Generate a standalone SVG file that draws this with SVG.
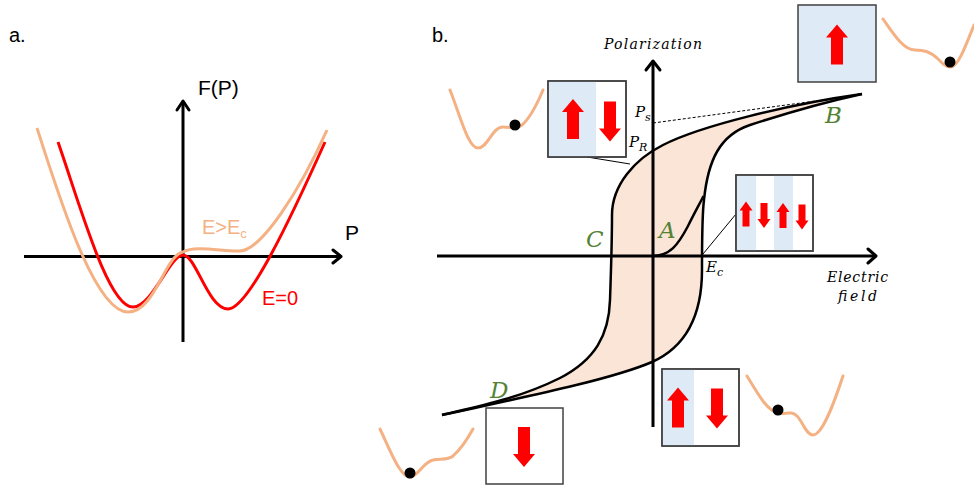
<svg xmlns="http://www.w3.org/2000/svg" width="974" height="487" viewBox="0 0 974 487">
<style>
.sans{font-family:"Liberation Sans",Arial,sans-serif;}
.math{font-family:"DejaVu Serif","Liberation Serif",serif;font-style:italic;fill:#000;}
.grn{font-family:"DejaVu Serif","Liberation Serif",serif;font-style:italic;fill:#548235;font-size:23px;}
.axis{stroke:#000;stroke-width:3;fill:none;}
.head{stroke:#000;stroke-width:3;fill:none;stroke-linecap:round;stroke-linejoin:round;}
.loop{stroke:#000;stroke-width:2.5;fill:none;}
.pot{stroke:#F4B183;stroke-width:3;fill:none;stroke-linecap:round;}
.box{stroke:#404040;stroke-width:1.5;}
.blue{fill:#DEEBF7;}
.arr{fill:#FF0000;}
.conn{stroke:#000;stroke-width:1;fill:none;}
</style>
<defs>
<path id="upBig" d="M0,-20 L11,-7 L6,-7 L6,20 L-6,20 L-6,-7 L-11,-7 Z"/>
<path id="upSmall" d="M0,-12.5 L6.5,-3.5 L3.5,-3.5 L3.5,12.5 L-3.5,12.5 L-3.5,-3.5 L-6.5,-3.5 Z"/>
</defs>
<rect width="974" height="487" fill="#fff"/>

<!-- Panel a -->
<g id="panel-a">
<text class="sans" x="9" y="42" font-size="20">a.</text>
<line class="axis" x1="183" y1="342" x2="183" y2="101"/>
<polyline class="head" points="177,110 183,101 189,110"/>
<line class="axis" x1="24" y1="256.5" x2="341" y2="256.5"/>
<polyline class="head" points="333,250 341,256.5 333,263"/>
<text class="sans" x="198" y="95" font-size="21">F(P)</text>
<text class="sans" x="345" y="240" font-size="21">P</text>
<path id="curve-E0" fill="none" stroke="#FF0000" stroke-width="3" d="M58,142 C80,205 108,307 133,307 C152,307 170,255 183,255 C196,255 208,309 228,309 C248,309 290,220 325,142"/>
<path id="curve-Ec" fill="none" stroke="#F4B183" stroke-width="3" d="M37,128 C60,200 95,312 128,312 C155,312 165,255 183,252 C195,245 225,252 240,251 C262,250 300,190 327,130"/>
<text class="sans" x="202" y="234" font-size="20" fill="#F4B183">E&gt;E<tspan font-size="13" dy="4">c</tspan></text>
<text class="sans" x="262" y="305" font-size="20" fill="#FF0000">E=0</text>
</g>

<!-- Panel b -->
<g id="panel-b">
<text class="sans" x="432" y="42" font-size="20">b.</text>
<path id="loop-fill" fill="#FBE5D6" stroke="none" d="M862,94 C790,104 700,126 663,145 C635,159 612,185 612,215 C612,245 611,270 610,300 C609,335 595,360 560,378 C520,398 480,406 442,415 C520,398 610,380 652,362 C690,345 702,310 702,270 C702,240 702,215 704,200 C708,160 720,135 750,125 C790,112 830,101 862,94 Z"/>
<line class="axis" x1="653" y1="427" x2="653" y2="61"/>
<polyline class="head" points="646,70 653,61 660,70"/>
<line class="axis" x1="437" y1="256" x2="876" y2="256"/>
<polyline class="head" points="868,249 876,256 868,263"/>
<path id="upper-branch" class="loop" d="M862,94 C790,104 700,126 663,145 C635,159 612,185 612,215 C612,245 611,270 610,300 C609,335 595,360 560,378 C520,398 480,406 442,415"/>
<path id="lower-branch" class="loop" d="M442,415 C520,398 610,380 652,362 C690,345 702,310 702,270 C702,240 702,215 704,200 C708,160 720,135 750,125 C790,112 830,101 862,94"/>
<path id="virgin" class="loop" d="M652,256 C670,256 678,245 688,226 C695,212 700,203 703.5,196"/>
<line x1="653" y1="123" x2="860" y2="95" stroke="#000" stroke-width="1" stroke-dasharray="3,2"/>
<text class="math" x="604" y="49" font-size="14" textLength="98" lengthAdjust="spacing">Polarization</text>
<text class="math" x="827" y="282" font-size="14" textLength="61" lengthAdjust="spacing">Electric</text>
<text class="math" x="838" y="301" font-size="14" textLength="39" lengthAdjust="spacing">field</text>
<text class="math" x="706" y="272" font-size="15">E<tspan font-size="11" dy="4">c</tspan></text>
<text class="math" x="635" y="117" font-size="15">P<tspan font-size="11" dy="4">s</tspan></text>
<text class="math" x="629" y="147" font-size="15">P<tspan font-size="11" dy="4">R</tspan></text>
<text class="grn" x="825" y="123">B</text>
<text class="grn" x="659" y="238">A</text>
<text class="grn" x="586" y="247">C</text>
<text class="grn" x="490" y="398">D</text>
</g>

<!-- Connectors -->
<g id="connectors">
<line class="conn" x1="587" y1="157" x2="630" y2="164"/>
<line class="conn" x1="736" y1="214" x2="703" y2="254"/>
</g>

<!-- Insets -->
<g id="inset-PR">
<rect class="box" x="548" y="81" width="78" height="76" fill="#fff"/>
<rect class="blue" x="548.75" y="81.75" width="47.25" height="74.5"/>
<rect class="box" x="548" y="81" width="78" height="76" fill="none"/>
<use href="#upBig" class="arr" transform="translate(573,119)"/>
<use href="#upBig" class="arr" transform="translate(610,121.5) rotate(180)"/>
</g>

<g id="inset-B">
<rect class="box blue" x="798" y="5" width="78" height="77"/>
<use href="#upBig" class="arr" transform="translate(837,44.5)"/>
</g>

<g id="inset-A">
<rect class="box" x="736" y="175" width="77" height="76" fill="#fff"/>
<rect class="blue" x="736.75" y="175.75" width="19.25" height="74.5"/>
<rect class="blue" x="774" y="175.75" width="19" height="74.5"/>
<rect class="box" x="736" y="175" width="77" height="76" fill="none"/>
<use href="#upSmall" class="arr" transform="translate(746,214)"/>
<use href="#upSmall" class="arr" transform="translate(764,215.5) rotate(180)"/>
<use href="#upSmall" class="arr" transform="translate(783,215.5)"/>
<use href="#upSmall" class="arr" transform="translate(802,217) rotate(180)"/>
</g>

<g id="inset-D">
<rect class="box" x="486" y="408" width="77" height="76" fill="#fff"/>
<use href="#upBig" class="arr" transform="translate(524,447) rotate(180)"/>
</g>

<g id="inset-bottom">
<rect class="box" x="662" y="369" width="77" height="77" fill="#fff"/>
<rect class="blue" x="662.75" y="369.75" width="31.25" height="75.5"/>
<rect class="box" x="662" y="369" width="77" height="77" fill="none"/>
<use href="#upBig" class="arr" transform="translate(678,407.5)"/>
<use href="#upBig" class="arr" transform="translate(717,408.5) rotate(180)"/>
</g>

<!-- Potential wells -->
<g id="well-PR">
<path class="pot" d="M450,90 C460,115 468,148 478,148 C488,148 492,127 503,127 C512,127 515,130 522,125 C530,118 538,102 543,90"/>
<circle cx="515" cy="125" r="5.5" fill="#000"/>
</g>
<g id="well-B">
<path class="pot" d="M883,19 C893,33 903,50 915,50 C925,50 930,52 937,58 C943,64 946,67 951,67 C958,67 966,45 974,25"/>
<circle cx="950" cy="62" r="5.5" fill="#000"/>
</g>
<g id="well-D">
<path class="pot" d="M380,429 C390,450 400,477 410,477 C418,477 423,462 433,460 C440,458 447,461 453,456 C462,448 468,438 473,429"/>
<circle cx="410" cy="473" r="5.5" fill="#000"/>
</g>
<g id="well-bottom">
<path class="pot" d="M747,376 C757,392 766,410 778,413 C786,415 790,410 797,416 C803,422 806,435 813,435 C823,435 835,400 843,376"/>
<circle cx="778" cy="410" r="5.5" fill="#000"/>
</g>
</svg>
